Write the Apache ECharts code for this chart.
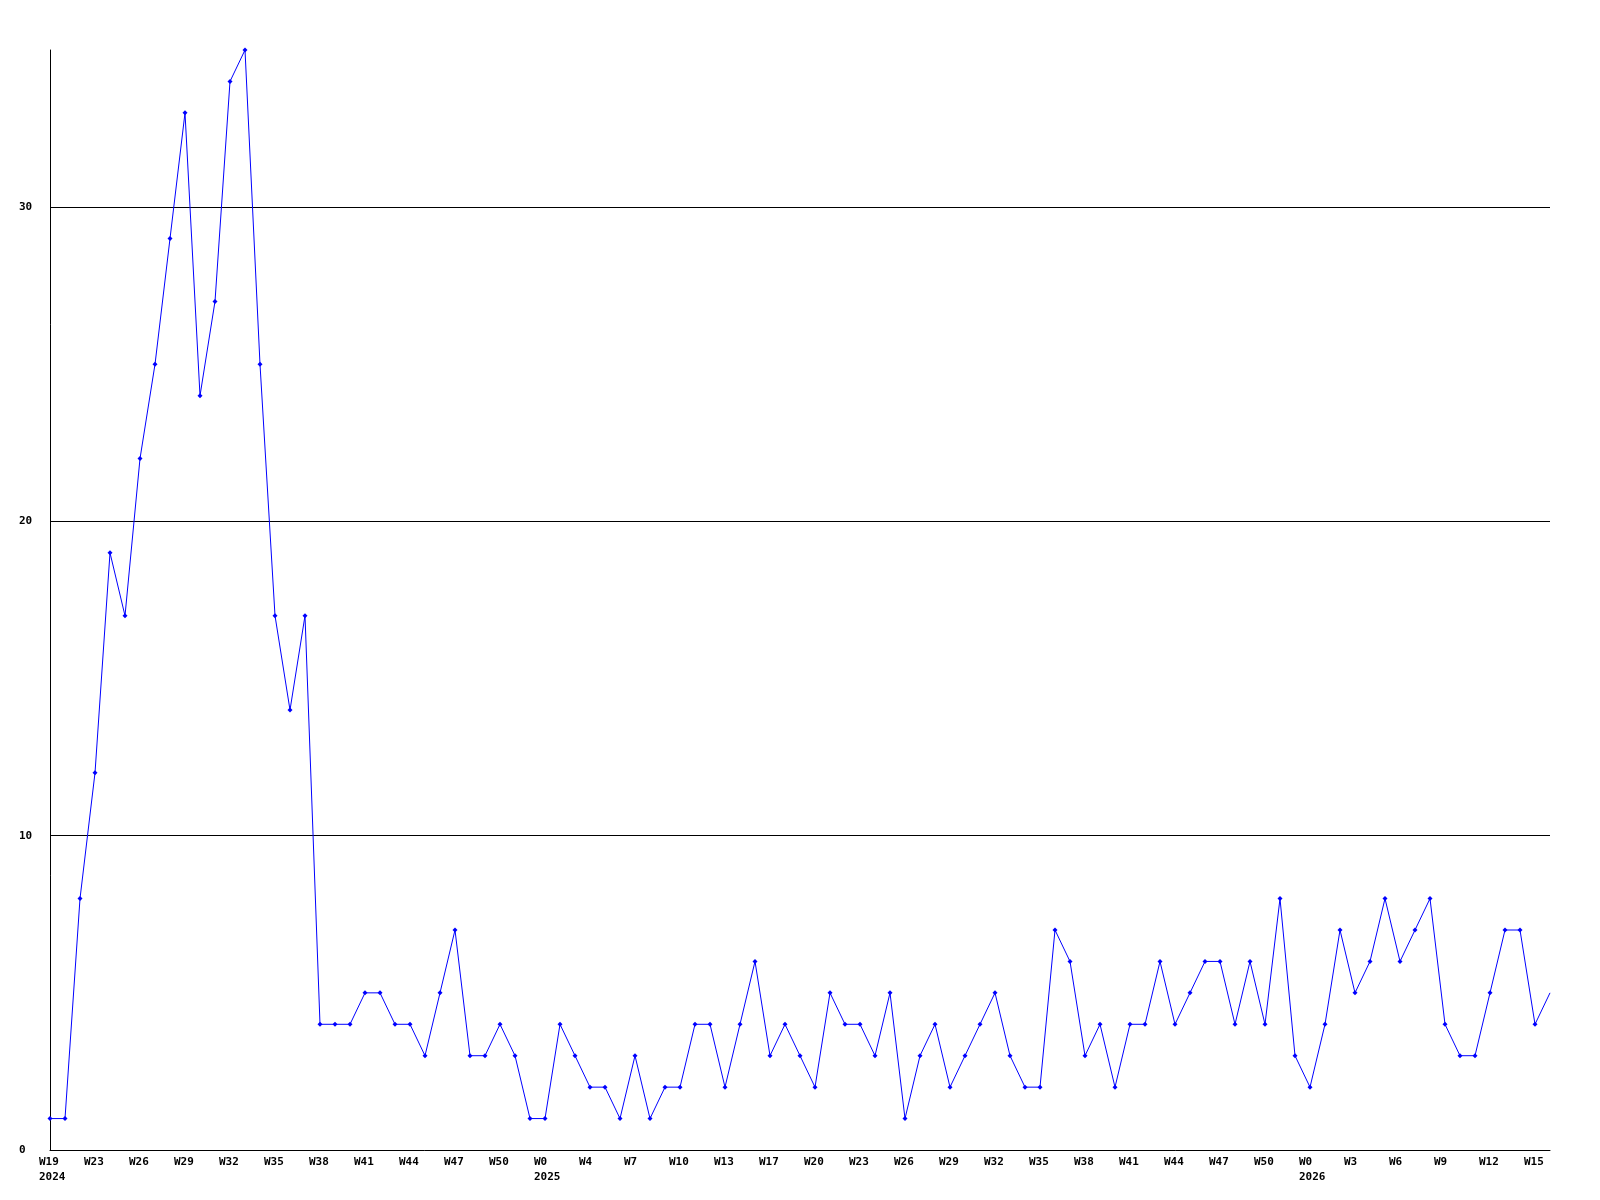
<!DOCTYPE html>
<html>
<head>
<meta charset="utf-8">
<script src="https://cdn.jsdelivr.net/npm/echarts@6/dist/echarts.min.js"></script>
<style>
html,body{margin:0;padding:0;background:#fff;}
#chart{width:1600px;height:1200px;}
</style>
</head>
<body>
<div id="chart"></div>
<script>
// Weekly values, one per point (W19 2024 ... W16 2026)
const values = [1,1,8,12,19,17,22,25,29,33,24,27,34,35,25,17,14,17,
  4,4,4,5,5,4,4,3,5,7,3,3,4,3,1,1,4,
  3,2,2,1,3,1,2,2,4,4,2,4,6,3,4,3,2,5,4,4,3,5,1,3,4,2,3,4,5,3,2,2,7,
  6,3,4,2,4,4,6,4,5,6,6,4,6,4,8,3,2,4,7,5,6,8,6,7,8,4,3,3,5,7,7,4,5];

// Tick labels, shown on every third point
const tickLabels = ['W19','W23','W26','W29','W32','W35','W38','W41','W44','W47','W50',
  'W0','W4','W7','W10','W13','W17','W20','W23','W26','W29','W32','W35','W38','W41','W44','W47','W50',
  'W0','W3','W6','W9','W12','W15'];
// Year labels shown below some tick labels (by tick label index)
const yearLabels = {0:'2024', 11:'2025', 28:'2026'};
const tickStep = 3;

const yTicks = [0, 10, 20, 30];
const yMax = 35;

const categories = values.map((_, i) => String(i));

const chart = echarts.init(document.getElementById('chart'), null, {renderer: 'canvas'});
const font = 'DejaVu Sans Mono';

chart.setOption({
  animation: false,
  backgroundColor: '#ffffff',
  grid: {left: 50, right: 50, top: 50, bottom: 50, containLabel: false},
  xAxis: {
    type: 'category',
    data: categories,
    boundaryGap: false,
    axisLine: {show: true, lineStyle: {color: '#000', width: 1}},
    axisTick: {show: false},
    splitLine: {show: false},
    axisLabel: {
      interval: tickStep - 1,
      margin: 5,
      align: 'left',
      padding: [0, 0, 0, -11],
      color: '#000',
      fontFamily: font,
      fontWeight: 'bold',
      fontSize: 11,
      lineHeight: 15,
      formatter: function (v, idx) {
        const k = idx / tickStep;
        const lab = tickLabels[k];
        if (lab === undefined) return '';
        return yearLabels[k] ? lab + '\n' + yearLabels[k] : lab;
      }
    }
  },
  yAxis: {
    type: 'value',
    min: 0,
    max: yMax,
    interval: 10,
    axisLine: {show: true, lineStyle: {color: '#000', width: 1}},
    axisTick: {show: false},
    splitLine: {show: true, showMinLine: false, showMaxLine: false, lineStyle: {color: '#000', width: 1}},
    axisLabel: {
      showMaxLabel: false,
      margin: 31,
      align: 'left',
      color: '#000',
      fontFamily: font,
      fontWeight: 'bold',
      fontSize: 11,
      formatter: function (v) { return yTicks.indexOf(v) >= 0 ? String(v) : ''; }
    }
  },
  series: [{
    type: 'line',
    data: values,
    symbol: function (v, params) {
      return params.dataIndex === values.length - 1 ? 'none' : 'diamond';
    },
    symbolSize: 5,
    showAllSymbol: true,
    lineStyle: {color: '#0000ff', width: 1},
    itemStyle: {color: '#0000ff'},
    clip: true
  }]
});
</script>
</body>
</html>
